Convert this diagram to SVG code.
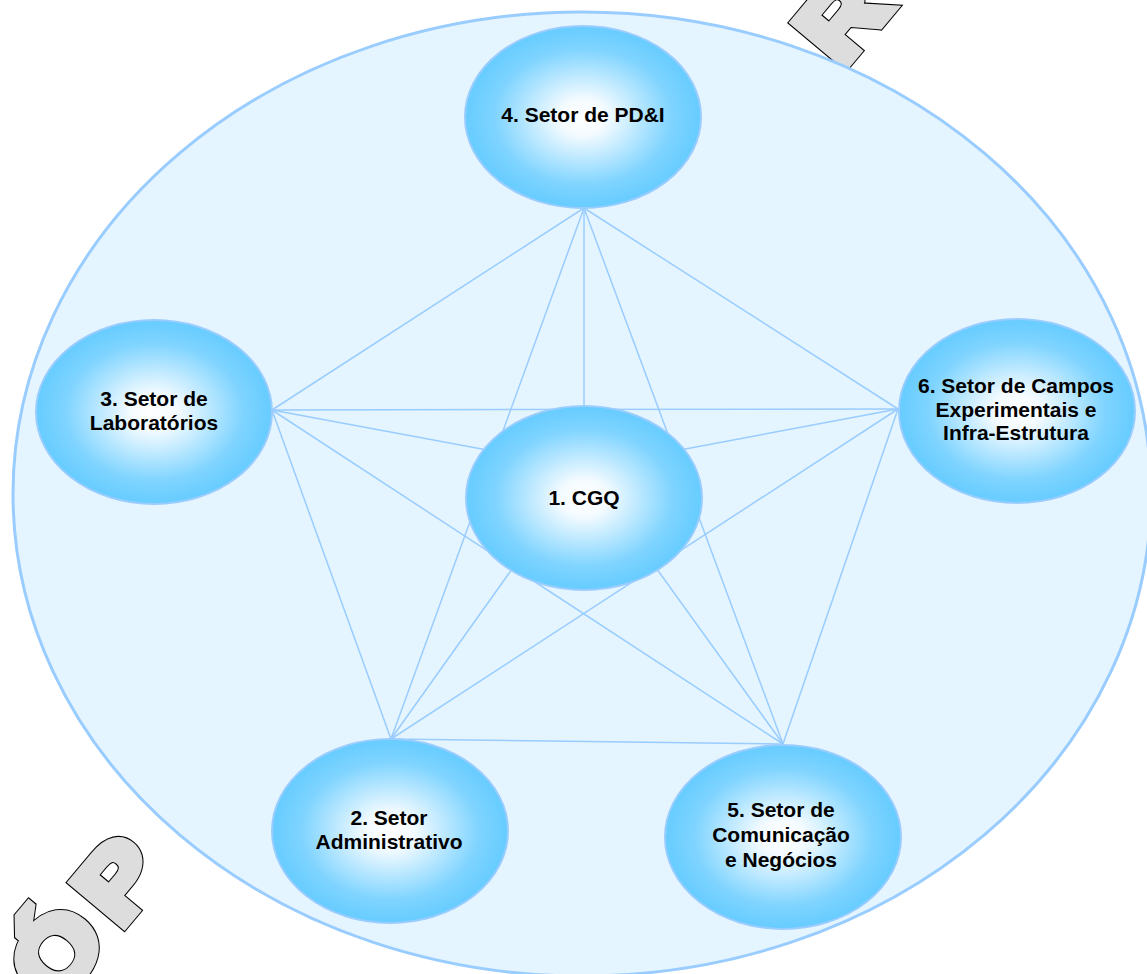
<svg xmlns="http://www.w3.org/2000/svg" width="1147" height="974" viewBox="0 0 1147 974">
<defs>
<radialGradient id="nodeGrad" cx="50%" cy="50%" r="50%">
<stop offset="0" stop-color="#ffffff"/>
<stop offset="0.2" stop-color="#f4fbff"/>
<stop offset="0.75" stop-color="#7fd4ff"/>
<stop offset="1" stop-color="#66ccff"/>
</radialGradient>
<style>
.wm{font-family:"Liberation Sans",Arial,sans-serif;font-weight:bold;font-size:96px;letter-spacing:22.25px;stroke-linejoin:miter;stroke-miterlimit:4}
.wm-line{fill:#000000;stroke:#000000;stroke-width:11.5}
.wm-fill{fill:#dddddd;stroke:#dddddd;stroke-width:9.5}
.outer{fill:#e5f5ff;stroke:#99ccff;stroke-width:3}
.node ellipse{fill:url(#nodeGrad);stroke:#99ccff;stroke-width:2}
.node text{font-family:"Liberation Sans",Arial,sans-serif;font-weight:bold;font-size:21px;fill:#000000;text-anchor:middle}
#connectors line{stroke:#99ccff;stroke-width:1.5;fill:none}
</style>
</defs>
<rect width="1147" height="974" fill="#ffffff"/>
<g id="watermark" transform="translate(122,927) rotate(-50) scale(1.15,1)">
<text class="wm wm-line" x="-191.45" y="0" dx="0 8.7 -8.7 14.15">CÓPIA NÃO CONTROLADA</text>
<text class="wm wm-fill" x="-191.45" y="0" dx="0 8.7 -8.7 14.15">CÓPIA NÃO CONTROLADA</text>
</g>
<ellipse id="boundary" class="outer" cx="582" cy="494" rx="569" ry="482"/>
<g id="connectors">
<line x1="584" y1="208" x2="272" y2="410"/>
<line x1="584" y1="208" x2="898" y2="409"/>
<line x1="584" y1="208" x2="391" y2="739"/>
<line x1="584" y1="208" x2="783" y2="744"/>
<line x1="584" y1="208" x2="584" y2="468"/>
<line x1="272" y1="410" x2="898" y2="409"/>
<line x1="272" y1="410" x2="584" y2="468"/>
<line x1="272" y1="410" x2="391" y2="739"/>
<line x1="272" y1="410" x2="783" y2="744"/>
<line x1="898" y1="409" x2="584" y2="468"/>
<line x1="898" y1="409" x2="391" y2="739"/>
<line x1="898" y1="409" x2="783" y2="744"/>
<line x1="391" y1="739" x2="783" y2="744"/>
<line x1="391" y1="739" x2="584" y2="468"/>
<line x1="783" y1="744" x2="584" y2="468"/>
</g>
<g id="node1" class="node">
<ellipse cx="584" cy="498" rx="118" ry="92"/>
<text x="584" y="505">1. CGQ</text>
</g>
<g id="node2" class="node">
<ellipse cx="390" cy="831" rx="118" ry="92"/>
<text x="389" y="825">2. Setor</text>
<text x="389" y="849">Administrativo</text>
</g>
<g id="node3" class="node">
<ellipse cx="154" cy="412" rx="118" ry="92"/>
<text x="154" y="406">3. Setor de</text>
<text x="154" y="430">Laboratórios</text>
</g>
<g id="node4" class="node">
<ellipse cx="583" cy="117" rx="118" ry="91"/>
<text x="583" y="122">4. Setor de PD&amp;I</text>
</g>
<g id="node5" class="node">
<ellipse cx="783" cy="837" rx="118" ry="92"/>
<text x="781" y="817">5. Setor de</text>
<text x="781" y="842">Comunicação</text>
<text x="781" y="867">e Negócios</text>
</g>
<g id="node6" class="node">
<ellipse cx="1017" cy="411" rx="118" ry="92"/>
<text x="1016" y="393">6. Setor de Campos</text>
<text x="1016" y="417">Experimentais e</text>
<text x="1016" y="440">Infra-Estrutura</text>
</g>
</svg>
